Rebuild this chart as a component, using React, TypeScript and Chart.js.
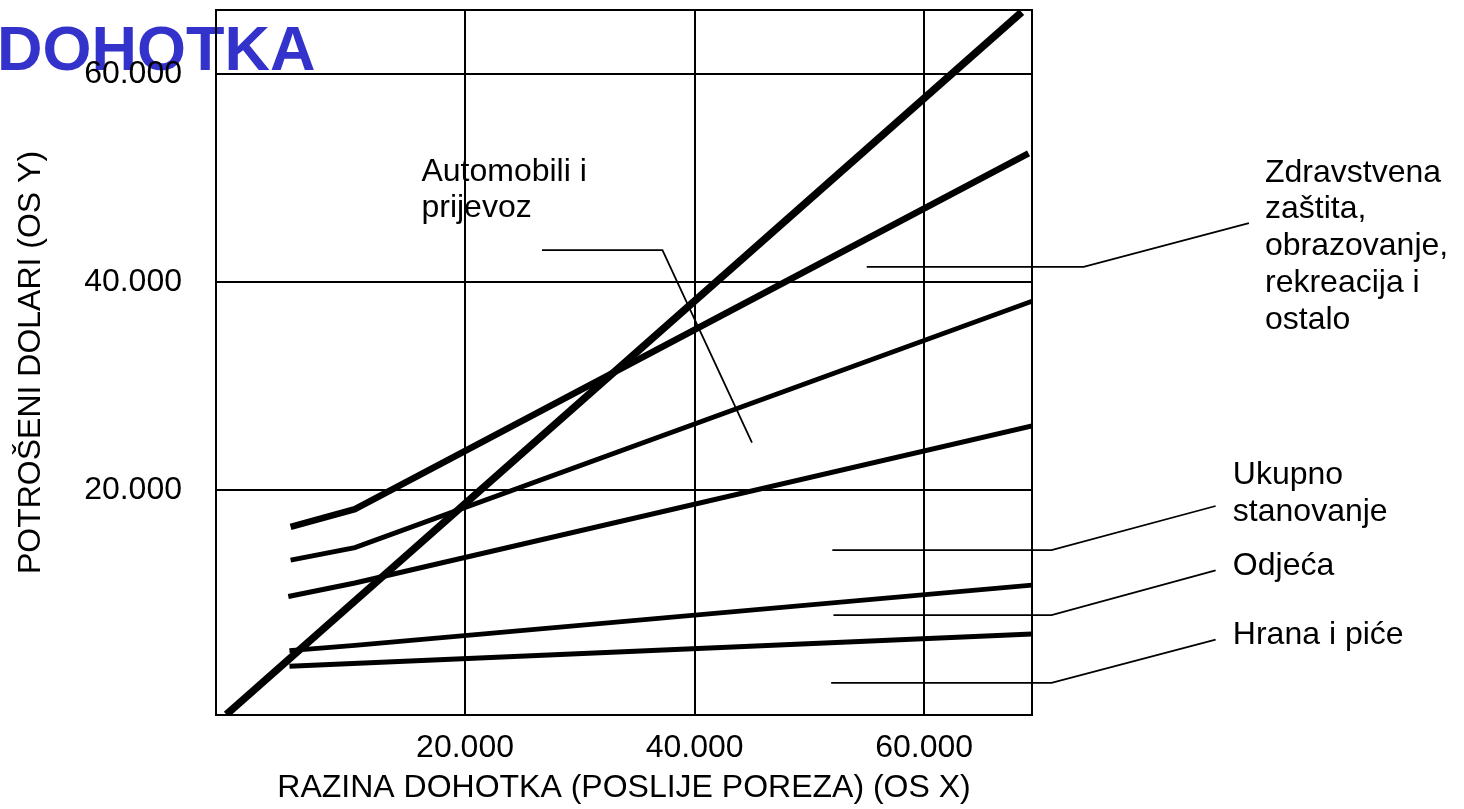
import { useEffect, useRef } from "react";
import { Chart, registerables } from "chart.js";

Chart.register(...registerables);

const FONT = '"Liberation Sans", Arial, Helvetica, sans-serif';

// ---- Data (US dollars) ----
const tickValues = [20000, 40000, 60000];

// 45° income line (spending = income)
const incomeX = [-800, 68500];
const incomeY = [-1550, 66000];
// cumulative spending boundaries (top to bottom)
const totalSpendX = [4800, 10400, 69100];
const totalSpendY = [16500, 18200, 52400];
const upToTransportX = [4800, 10400, 69400];
const upToTransportY = [13300, 14500, 38200];
const upToHousingX = [4600, 10400, 69400];
const upToHousingY = [9800, 11100, 26200];
const upToClothingX = [4700, 10400, 69400];
const upToClothingY = [4600, 5100, 10900];
const foodX = [4700, 69400];
const foodY = [3100, 6200];

// ---- Category labels with leader lines (in data units) ----
const categoryNames = [
  ["Automobili i", "prijevoz"],
  ["Zdravstvena", "zaštita,", "obrazovanje,", "rekreacija i", "ostalo"],
  ["Ukupno", "stanovanje"],
  ["Odjeća"],
  ["Hrana i piće"],
];
const labelAnchors = [
  [16200, 49800],
  [89700, 49700],
  [86900, 20600],
  [86900, 11900],
  [86900, 5200],
];
const leaderPaths = [
  [[26700, 43100], [37200, 43100], [45000, 24600]],
  [[55000, 41500], [73900, 41500], [88300, 45700]],
  [[52000, 14250], [71100, 14250], [85400, 18500]],
  [[52100, 8000], [71100, 8000], [85400, 12300]],
  [[51900, 1480], [71100, 1480], [85400, 5650]],
];

const zip = (xs: number[], ys: number[]) => xs.map((x, i) => ({ x, y: ys[i] }));
const fmt = (v: number) => Math.round(v).toString().replace(/\B(?=(\d{3})+(?!\d))/g, ".");

const overlayPlugin = {
  id: "overlay",
  beforeDraw(chart: any) {
    const ctx = chart.ctx;
    ctx.save();
    ctx.fillStyle = "#3333cc";
    ctx.font = `bold 63px ${FONT}`;
    ctx.textBaseline = "alphabetic";
    ctx.textAlign = "left";
    ctx.fillText("DOHOTKA", -3, 70);
    ctx.restore();
  },
  beforeDatasetsDraw(chart: any) {
    const { ctx, chartArea } = chart;
    ctx.save();
    ctx.strokeStyle = "#000";
    ctx.lineWidth = 2;
    ctx.strokeRect(chartArea.left, chartArea.top, chartArea.right - chartArea.left, chartArea.bottom - chartArea.top);
    ctx.restore();
  },
  afterDatasetsDraw(chart: any) {
    const { ctx } = chart;
    const xs = chart.scales.x;
    const ys = chart.scales.y;
    ctx.save();
    ctx.strokeStyle = "#000";
    ctx.lineWidth = 1.8;
    leaderPaths.forEach((path) => {
      ctx.beginPath();
      path.forEach(([vx, vy], i) => {
        const px = xs.getPixelForValue(vx);
        const py = ys.getPixelForValue(vy);
        if (i === 0) ctx.moveTo(px, py);
        else ctx.lineTo(px, py);
      });
      ctx.stroke();
    });
    ctx.fillStyle = "#000";
    ctx.font = `32px ${FONT}`;
    ctx.textBaseline = "alphabetic";
    ctx.textAlign = "left";
    categoryNames.forEach((lines, i) => {
      const px = xs.getPixelForValue(labelAnchors[i][0]);
      const py = ys.getPixelForValue(labelAnchors[i][1]);
      lines.forEach((t, j) => ctx.fillText(t, px, py + j * 36.8));
    });
    ctx.restore();
  },
};

export default function App() {
  const ref = useRef<HTMLCanvasElement | null>(null);

  useEffect(() => {
    if (!ref.current) return;
    const line = (data: { x: number; y: number }[], w: number) => ({
      data,
      borderColor: "#000",
      backgroundColor: "#000",
      borderWidth: w,
      pointRadius: 0,
      tension: 0,
      fill: false,
      borderCapStyle: "butt" as const,
      borderJoinStyle: "miter" as const,
    });
    const chart = new Chart(ref.current, {
      type: "line",
      data: {
        datasets: [
          { label: "Dohodak", ...line(zip(incomeX, incomeY), 7.5) },
          { label: "Ukupna potrošnja", ...line(zip(totalSpendX, totalSpendY), 6.5) },
          { label: "Do automobila i prijevoza", ...line(zip(upToTransportX, upToTransportY), 4.8) },
          { label: "Do stanovanja", ...line(zip(upToHousingX, upToHousingY), 5) },
          { label: "Do odjeće", ...line(zip(upToClothingX, upToClothingY), 4.8) },
          { label: "Hrana i piće", ...line(zip(foodX, foodY), 5) },
        ],
      },
      options: {
        animation: false,
        responsive: true,
        maintainAspectRatio: false,
        layout: { padding: { top: 10, right: 432, left: 0, bottom: 0 } },
        plugins: { legend: { display: false }, tooltip: { enabled: false } },
        scales: {
          x: {
            type: "linear",
            min: -1700,
            max: 69400,
            afterBuildTicks: (s: any) => {
              s.ticks = tickValues.map((v) => ({ value: v }));
            },
            afterFit: (s: any) => {
              s.height = 94;
              s.paddingLeft = 0;
              s.paddingRight = 0;
            },
            grid: { color: "#000", lineWidth: 2, drawTicks: false },
            border: { display: true, color: "#000", width: 2 },
            ticks: {
              color: "#000",
              font: { family: FONT, size: 32 },
              padding: 14,
              maxRotation: 0,
              callback: (v: any) => fmt(Number(v)),
            },
            title: {
              display: true,
              text: "RAZINA DOHOTKA (POSLIJE POREZA) (OS X)",
              color: "#000",
              font: { family: FONT, size: 32 },
              padding: { top: 0, bottom: 1.5 },
            },
          },
          y: {
            type: "linear",
            min: -1600,
            max: 66200,
            afterBuildTicks: (s: any) => {
              s.ticks = tickValues.map((v) => ({ value: v }));
            },
            afterFit: (s: any) => {
              s.width = 216;
              s.paddingTop = 0;
              s.paddingBottom = 0;
            },
            grid: { color: "#000", lineWidth: 2, drawTicks: false },
            border: { display: true, color: "#000", width: 2 },
            ticks: {
              color: "#000",
              font: { family: FONT, size: 32 },
              padding: 34,
              callback: (v: any) => fmt(Number(v)),
            },
            title: {
              display: true,
              text: "POTROŠENI DOLARI (OS Y)",
              color: "#000",
              font: { family: FONT, size: 32 },
              padding: { top: 12.3, bottom: 0 },
            },
          },
        },
      },
      plugins: [overlayPlugin],
    });
    return () => chart.destroy();
  }, []);

  return (
    <div style={{ position: "absolute", left: 0, top: 0, width: 1464, height: 809, background: "#fff" }}>
      <canvas ref={ref} />
    </div>
  );
}
